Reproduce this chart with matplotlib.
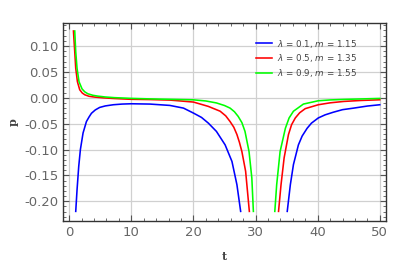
import matplotlib
matplotlib.use("Agg")
import matplotlib.pyplot as plt
from matplotlib.ticker import MultipleLocator

# values (two branches per curve, around the pole near t ~ 31.4)
blue_t1 = [1.05, 1.26, 1.53, 1.8, 2.23, 2.77, 3.2, 3.58, 4.2, 4.9, 5.8, 7.1, 8.5, 10, 13, 16.2, 18.4, 20.0, 21.3,
           22.4, 23.7, 25.1, 26.2, 27.0, 27.6]
blue_p1 = [-0.2195, -0.178, -0.133, -0.100, -0.068, -0.046, -0.037, -0.030, -0.0235, -0.0187, -0.0158, -0.0135,
           -0.0122, -0.0116, -0.0122, -0.0148, -0.020, -0.0296, -0.038, -0.049, -0.065, -0.091, -0.123, -0.168, -0.2195]
blue_t2 = [35.1, 35.6, 36.1, 36.9, 37.5, 38.3, 39.0, 40.1, 41.2, 42.5, 44.0, 45.8, 48.0, 50.0]
blue_p2 = [-0.2195, -0.168, -0.129, -0.091, -0.074, -0.059, -0.049, -0.039, -0.033, -0.028, -0.023, -0.020,
           -0.016, -0.0135]

red_t1 = [0.68, 0.89, 1.05, 1.32, 1.69, 2.1, 2.5, 3.2, 4.1, 5.5, 7.3, 10, 13, 16.2, 20, 22.4, 24.3, 25.2, 25.9,
          26.5, 27.0, 27.4, 27.8, 28.4, 29.0]
red_p1 = [0.129, 0.089, 0.057, 0.031, 0.0155, 0.0092, 0.0058, 0.0028, 0.0013, -0.0002, -0.0015, -0.003, -0.0035,
          -0.0045, -0.0083, -0.0167, -0.026, -0.035, -0.046, -0.057, -0.071, -0.086, -0.104, -0.142, -0.2195]
red_t2 = [33.7, 34.1, 34.6, 35.3, 35.8, 36.4, 37.1, 38.0, 40.1, 42.0, 44.2, 47.0, 50.0]
red_p2 = [-0.2195, -0.168, -0.116, -0.071, -0.052, -0.039, -0.029, -0.021, -0.0135, -0.0098, -0.0071, -0.0052,
          -0.0039]

green_t1 = [0.89, 1.05, 1.26, 1.58, 2.07, 2.5, 3.0, 3.8, 4.6, 5.8, 7.3, 10, 13, 16.2, 20, 22.0, 23.7, 25.0, 25.9,
            26.6, 27.2, 27.8, 28.3, 28.95, 29.4, 29.65]
green_p1 = [0.129, 0.089, 0.057, 0.031, 0.017, 0.0115, 0.0077, 0.0048, 0.0032, 0.0015, 0.0002, -0.0012, -0.0022,
            -0.003, -0.004, -0.0062, -0.010, -0.015, -0.020, -0.027, -0.036, -0.048, -0.065, -0.104, -0.155, -0.2195]
green_t2 = [33.1, 33.4, 33.95, 34.8, 35.4, 36.1, 37.7, 40.1, 42.0, 44.2, 50.0]
green_p2 = [-0.2195, -0.168, -0.104, -0.059, -0.039, -0.026, -0.0122, -0.0058, -0.0042, -0.0032, -0.0013]

labels = [r"$\lambda$ = 0.1, $m$ = 1.15", r"$\lambda$ = 0.5, $m$ = 1.35", r"$\lambda$ = 0.9, $m$ = 1.55"]

fig = plt.figure(figsize=(4.09, 2.64), dpi=100)
ax = fig.add_axes([63/409, 1 - 220.7/264, 323/409, 198/264])

lw = 1.15
ax.plot(blue_t1, blue_p1, color="#0000ff", lw=lw, label=labels[0])
ax.plot(blue_t2, blue_p2, color="#0000ff", lw=lw)
ax.plot(red_t1, red_p1, color="#ff0000", lw=lw, label=labels[1])
ax.plot(red_t2, red_p2, color="#ff0000", lw=lw)
ax.plot(green_t1, green_p1, color="#00ff00", lw=lw, label=labels[2])
ax.plot(green_t2, green_p2, color="#00ff00", lw=lw)

ax.set_xlim(-1.0, 51.0)
ax.set_ylim(-0.2375, 0.145)
ax.xaxis.set_major_locator(MultipleLocator(10))
ax.xaxis.set_minor_locator(MultipleLocator(2))
ax.yaxis.set_major_locator(MultipleLocator(0.05))
ax.yaxis.set_minor_locator(MultipleLocator(0.01))
ax.yaxis.set_major_formatter(plt.FuncFormatter(lambda v, pos: "%.2f" % v if abs(v) > 1e-9 else "0.00"))
ax.grid(True, which="major", color="#d0d0d0", lw=0.9)
ax.set_axisbelow(True)

ax.tick_params(which="both", direction="in", top=True, right=True, colors="#555555",
               labelsize=9.5, labelcolor="#666666")
ax.tick_params(which="major", length=4, width=0.8)
ax.tick_params(which="minor", length=2, width=0.6)
for s in ax.spines.values():
    s.set_color("#333333")
    s.set_linewidth(1.0)

ax.set_xlabel("t", family="DejaVu Serif", fontweight="bold", fontsize=8, color="#444444", labelpad=9)
ax.set_ylabel("p", family="DejaVu Serif", fontweight="bold", fontsize=8, color="#444444", labelpad=4)

leg = ax.legend(loc="upper left", bbox_to_anchor=(0.597, 0.925), frameon=False, fontsize=6.3,
                handlelength=1.8, handletextpad=0.6, labelspacing=0.3, borderpad=0, borderaxespad=0)
for t in leg.get_texts():
    t.set_color("#444444")

fig.savefig("out.png", dpi=100)
